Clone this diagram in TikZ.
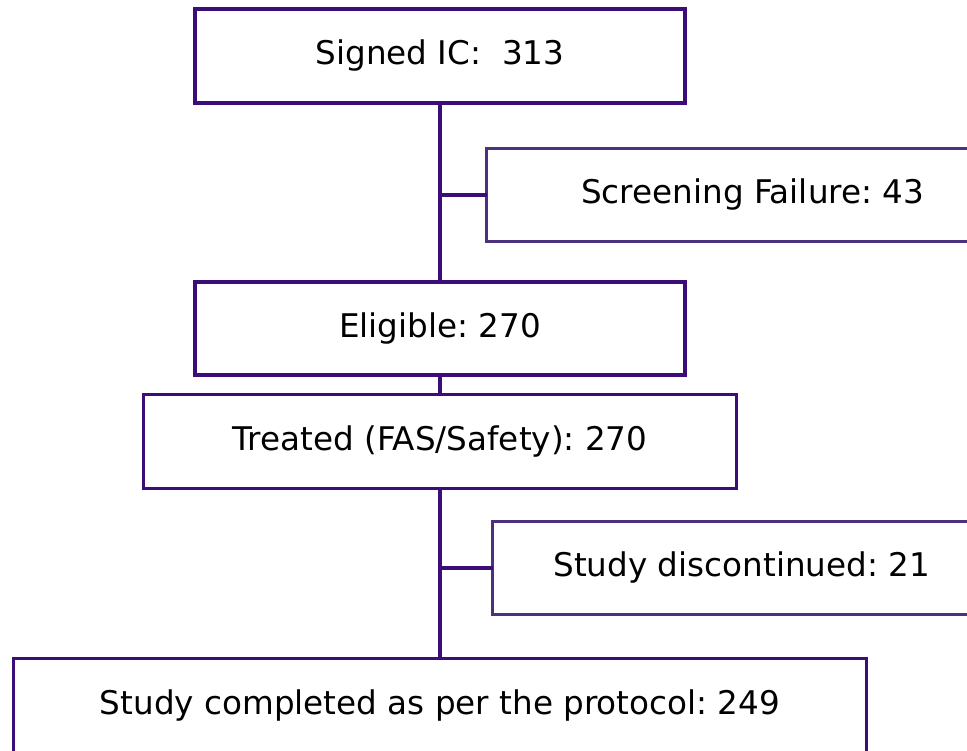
\documentclass[tikz,border=0pt]{standalone}
\usepackage{fontspec}
\setmainfont{DejaVu Sans}
\definecolor{mainline}{RGB}{60,12,120}
\definecolor{sideline}{RGB}{78,48,128}
\begin{document}
\frenchspacing
\begin{tikzpicture}[x=1pt,y=-1pt,
  every node/.style={font=\fontsize{32.6}{38}\selectfont, text=black, inner sep=0pt, outer sep=0pt},
  mainbox/.style={draw=mainline, line width=4pt, fill=white},
  thinbox/.style={draw=mainline, line width=3pt, fill=white},
  sidebox/.style={draw=sideline, line width=3pt, fill=white},
  link/.style={draw=mainline, line width=4pt}]
\useasboundingbox (0,0) rectangle (967,751);
\clip (0,0) rectangle (967,751);
\fill[white] (0,0) rectangle (967,751);

% boxes of the flow
\node[mainbox, minimum width=490pt, minimum height=94pt] (signed) at (440,56) {Signed IC:\ \ 313};
\node[sidebox, minimum width=532.5pt, minimum height=93pt] (screen) at (752.75,195) {Screening Failure: 43};
\node[mainbox, minimum width=490pt, minimum height=93pt] (elig) at (440,328.5) {Eligible: 270};
\node[thinbox, minimum width=593pt, minimum height=94pt] (treat) at (440,441.5) {Treated (FAS/Safety): 270};
\node[sidebox, minimum width=498.5pt, minimum height=93pt] (disc) at (741.75,568) {Study discontinued: 21};
\node[thinbox, minimum width=853pt, minimum height=94pt] (compl) at (440,705.5) {Study completed as per the protocol: 249};

% connectors
\draw[link] (signed.south) -- (elig.north);
\draw[link, line width=3.5pt] (signed.south |- screen.west) -- (screen.west);
\draw[link] (elig.south) -- (treat.north);
\draw[link] (treat.south) -- (compl.north);
\draw[link, line width=3.5pt] (treat.south |- disc.west) -- (disc.west);
\end{tikzpicture}
\end{document}
